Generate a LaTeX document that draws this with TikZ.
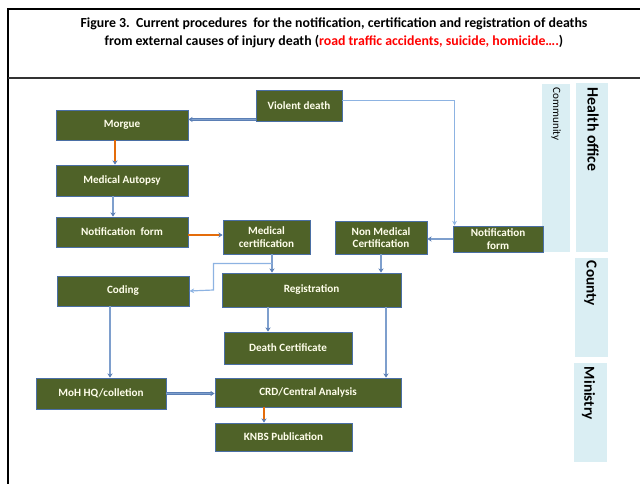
\documentclass[tikz,border=0pt]{standalone}
\usepackage{fontspec}
\setmainfont{Carlito}
\usepackage{tikz}
\usetikzlibrary{arrows.meta}
\usetikzlibrary{calc}
\definecolor{boxgreen}{HTML}{4F6228}
\definecolor{boxedge}{HTML}{4A6FA5}
\definecolor{linkblue}{HTML}{5B7FB5}
\definecolor{linklight}{HTML}{7E9FCD}
\definecolor{thinblue}{HTML}{8DB3E2}
\definecolor{linkorange}{HTML}{E46C0A}
\definecolor{bandblue}{HTML}{DAEEF3}
\definecolor{titlered}{HTML}{FF0000}
\tikzset{
	procbox/.style = {rectangle, draw=boxedge, fill=boxgreen, line width=0.8pt,
		text=white!92!yellow, font=\bfseries\fontsize{9.5}{10.5}\selectfont,
		align=center, inner sep=0pt},% process box
	band/.style = {rectangle, fill=bandblue, inner sep=0pt},% level band
	bandtext/.style = {rotate=-90, anchor=west, inner sep=0pt},
	link/.style = {draw=linkblue, double=linklight, double distance=1.1pt,
		line width=0.5pt, -{Stealth[length=3.5pt,width=4.5pt]}},% thick connector
	hotlink/.style = {link, double=linkorange, double distance=1.3pt},% orange connector
	thinlink/.style = {draw=thinblue, line width=1pt, -{Stealth[length=4pt,width=4pt]}}% thin connector
}
\begin{document}
\begin{tikzpicture}[x=0.03cm, y=-0.03cm]
	\useasboundingbox (0,0) rectangle (640,484);
	% frame
	\draw[line width=1.4pt] (8,484) -- (8,9) -- (640,9);
	\draw[line width=1.4pt, black!80] (8,78) -- (640,78);
	\node[font=\bfseries\fontsize{11.8}{15}\selectfont, align=center] (title) at (334,33)
		{Figure 3.\ \ Current procedures\ \ for the notification, certification and registration of deaths\\
		from external causes of injury death (\textcolor{titlered}{road traffic accidents, suicide, homicide\dots.})};
	% bands
	\node[band, minimum width=0.84cm, minimum height=5.04cm] (community) at (556,168) {};
	\node[band, minimum width=0.96cm, minimum height=5.07cm] (health) at (592,167.5) {};
	\node[band, minimum width=0.99cm, minimum height=2.97cm] (county) at (591.5,307.5) {};
	\node[band, minimum width=0.99cm, minimum height=2.97cm] (ministry) at (590.5,412.5) {};
	\node[bandtext, font=\fontsize{9.5}{10}\selectfont] at ($(community.north)+(0,4)$) {Community};
	\node[bandtext, font=\bfseries\fontsize{13.5}{14}\selectfont] at ($(health.north)+(1,5)$) {Health office};
	\node[bandtext, font=\bfseries\fontsize{13}{14}\selectfont] at ($(county.north)+(-1,3)$) {County};
	\node[bandtext, font=\bfseries\fontsize{13}{14}\selectfont] at ($(ministry.north)+(-2,4)$) {Ministry};
	% boxes
	\node[procbox, minimum width=2.58cm, minimum height=0.93cm] (violent) at (299,105.5) {Violent death};
	\node[procbox, minimum width=3.96cm, minimum height=0.90cm] (morgue) at (122,125) {Morgue};
	\node[procbox, minimum width=3.96cm, minimum height=0.93cm] (autopsy) at (122,180.5) {Medical Autopsy};
	\node[procbox, minimum width=3.96cm, minimum height=0.90cm] (notif) at (122,232) {Notification\ \ form};
	\node[procbox, minimum width=2.61cm, minimum height=1.02cm] (medcert) at (266.5,237) {Medical\\certification};
	\node[procbox, minimum width=2.76cm, minimum height=0.99cm] (nonmed) at (381,237.5) {Non Medical\\Certification};
	\node[procbox, minimum width=2.70cm, minimum height=0.78cm] (notifr) at (498,239) {Notification\\form};
	\node[procbox, minimum width=3.96cm, minimum height=0.90cm] (coding) at (123,291) {Coding};
	\node[procbox, minimum width=5.37cm, minimum height=1.02cm] (regist) at (311.5,290) {Registration};
	\node[procbox, minimum width=3.84cm, minimum height=0.96cm] (deathcert) at (288,348) {Death Certificate};
	\node[procbox, minimum width=3.90cm, minimum height=0.93cm] (moh) at (101,393.5) {MoH HQ/colletion};
	\node[procbox, minimum width=5.58cm, minimum height=0.87cm] (crd) at (308,392.5) {CRD/Central Analysis};
	\node[procbox, minimum width=4.11cm, minimum height=0.84cm] (knbs) at (283.5,437) {KNBS Publication};
	% helper points
	\coordinate (mc) at ($(medcert.south)+(5.5,0)$);
	\coordinate (dc) at ($(deathcert.north)+(-20,0)$);
	\coordinate (rc) at ($(regist.south)+(74.5,0)$);
	\coordinate (cm) at ($(coding.south)+(-13,0)$);
	\coordinate (kc) at ($(knbs.north)+(-19.5,0)$);
	% connectors
	\draw[link] ($(violent.south west)+(0,-2)$) -- ($(violent.south west -| morgue.east)+(0,-2)$);
	\draw[thinlink] ($(violent.east)+(0,-5)$) -| ($(notifr.north west)+(2,0)$);
	\draw[hotlink] ($(morgue.south)+(-7,0)$) -- ($(autopsy.north)+(-7,0)$);
	\draw[link] ($(autopsy.south)+(-9,0)$) -- ($(notif.north)+(-9,0)$);
	\draw[hotlink] ($(notif.east)+(0,3)$) -- ($(notif.east -| medcert.west)+(0,3)$);
	\draw[link] (notifr.west) -- (notifr.west -| nonmed.east);
	\draw[link] (mc) -- (mc |- regist.north);
	\draw[thinlink] ($(mc)+(0,9)$) -| ($(regist.west)+(-8,0)$) -- (coding.east);
	\draw[link] (nonmed.south) -- (nonmed.south |- regist.north);
	\draw[link] (dc |- regist.south) -- (dc);
	\draw[link] (rc) -- (rc |- crd.north);
	\draw[link] (cm) -- (cm |- moh.north);
	\draw[link] (moh.east) -- (moh.east -| crd.west);
	\draw[hotlink] (kc |- crd.south) -- (kc);
\end{tikzpicture}
\end{document}
